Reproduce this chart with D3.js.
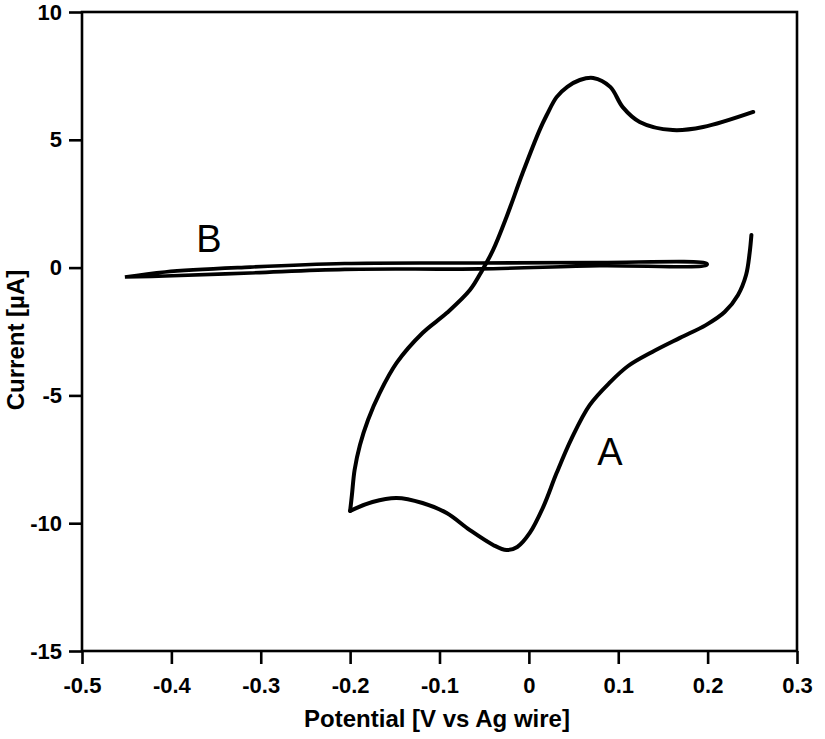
<meta charset="utf-8">
<title>Cyclic voltammogram</title>
<script src="https://d3js.org/d3.v7.min.js"></script>
<style>
  body { margin: 0; background: #fff; }
  text { font-family: "Liberation Sans", Arial, sans-serif; }
</style>
<body>
<svg width="825" height="739"></svg>
<script>

  // curve A: potential (V) and current (uA)
  const aPotential = [
    0.249, 0.247, 0.243, 0.234, 0.219, 0.198, 0.169, 0.138, 0.111, 0.091,
    0.068, 0.048, 0.031, 0.016, 0.001, -0.013, -0.025, -0.040, -0.066, -0.092,
    -0.119, -0.148, -0.175, -0.200, -0.198, -0.195, -0.189, -0.180, -0.167, -0.148,
    -0.119, -0.092, -0.066, -0.052, -0.040, -0.025, -0.007, 0.012, 0.020, 0.031,
    0.043, 0.057, 0.072, 0.091, 0.105, 0.124, 0.161, 0.195, 0.251
  ]
  const aCurrent = [
    1.28, 0.57, -0.29, -1.07, -1.74, -2.25, -2.75, -3.30, -3.85, -4.48,
    -5.38, -6.67, -8.04, -9.37, -10.38, -10.93, -11.05, -10.85, -10.27, -9.60,
    -9.21, -9.01, -9.17, -9.52, -8.90, -7.92, -6.94, -5.96, -4.91, -3.73,
    -2.56, -1.78, -0.88, -0.09, 0.69, 1.98, 3.70, 5.38, 5.97, 6.67,
    7.07, 7.34, 7.42, 7.07, 6.28, 5.70, 5.38, 5.50, 6.09
  ]
  const aTurn = 23 // index of the switching point at -0.2 V

  // curve B: thin loop, upper branch then lower branch
  const bPotential = [-0.452, -0.407, -0.312, -0.206, -0.055, 0.079, 0.199, 0.199, 0.079, -0.055, -0.206, -0.312, -0.407, -0.452]
  const bCurrent = [-0.37, -0.17, 0.02, 0.16, 0.18, 0.20, 0.16, 0.10, 0.07, -0.05, -0.07, -0.21, -0.33, -0.37]

  const xTicks = [-0.5, -0.4, -0.3, -0.2, -0.1, 0, 0.1, 0.2, 0.3]
  const yTicks = [-15, -10, -5, 0, 5, 10]

  const svg = d3.select('svg')
  const mLeft = 82, mRight = 797, mTop = 12, mBottom = 651

  const x = d3.scaleLinear().domain([-0.5, 0.3]).range([mLeft, mRight])
  const y = d3.scaleLinear().domain([-15, 10]).range([mBottom, mTop])

  const fmt = d => d === 0 ? '0' : String(d)

  const xAxis = svg.append('g')
    .attr('transform', `translate(0,${mBottom})`)
    .call(d3.axisBottom(x).tickValues(xTicks).tickFormat(fmt).tickSize(13).tickPadding(13))
  const yAxis = svg.append('g')
    .attr('transform', `translate(${mLeft},0)`)
    .call(d3.axisLeft(y).tickValues(yTicks).tickFormat(fmt).tickSize(13).tickPadding(7))

  ;[xAxis, yAxis].forEach(g => {
    g.select('.domain').remove()
    g.selectAll('.tick line').attr('stroke', '#000').attr('stroke-width', 2.6)
    g.selectAll('.tick text')
      .attr('fill', '#000')
      .style('font-size', '22px')
      .style('font-weight', 'bold')
  })

  // frame
  svg.append('rect')
    .attr('x', mLeft).attr('y', mTop)
    .attr('width', mRight - mLeft).attr('height', mBottom - mTop)
    .attr('fill', 'none').attr('stroke', '#000').attr('stroke-width', 2.6)

  const line = d3.line()
    .x(d => x(d[0]))
    .y(d => y(d[1]))
    .curve(d3.curveCatmullRom)

  svg.append('path')
    .attr('d', line(d3.zip(bPotential, bCurrent)))
    .attr('fill', 'none').attr('stroke', '#000').attr('stroke-width', 3.6)
    .attr('stroke-linejoin', 'round')

  // A drawn as two sweeps so the switching point stays sharp
  const aPts = d3.zip(aPotential, aCurrent)
  ;[aPts.slice(0, aTurn + 1), aPts.slice(aTurn)].forEach(seg => {
    svg.append('path')
      .attr('d', line(seg))
      .attr('fill', 'none').attr('stroke', '#000').attr('stroke-width', 4)
      .attr('stroke-linejoin', 'round').attr('stroke-linecap', 'round')
  })

  // curve labels
  svg.append('text').attr('x', 610).attr('y', 465)
    .attr('text-anchor', 'middle').style('font-size', '38px').text('A')
  svg.append('text').attr('x', 209).attr('y', 252)
    .attr('text-anchor', 'middle').style('font-size', '38px').text('B')

  // axis titles
  svg.append('text').attr('x', 437).attr('y', 727)
    .attr('text-anchor', 'middle')
    .style('font-size', '24px').style('font-weight', 'bold')
    .text('Potential [V vs Ag wire]')
  svg.append('text')
    .attr('transform', 'translate(24,340) rotate(-90)')
    .attr('text-anchor', 'middle')
    .style('font-size', '24px').style('font-weight', 'bold')
    .text('Current [µA]')

</script>
</body>
